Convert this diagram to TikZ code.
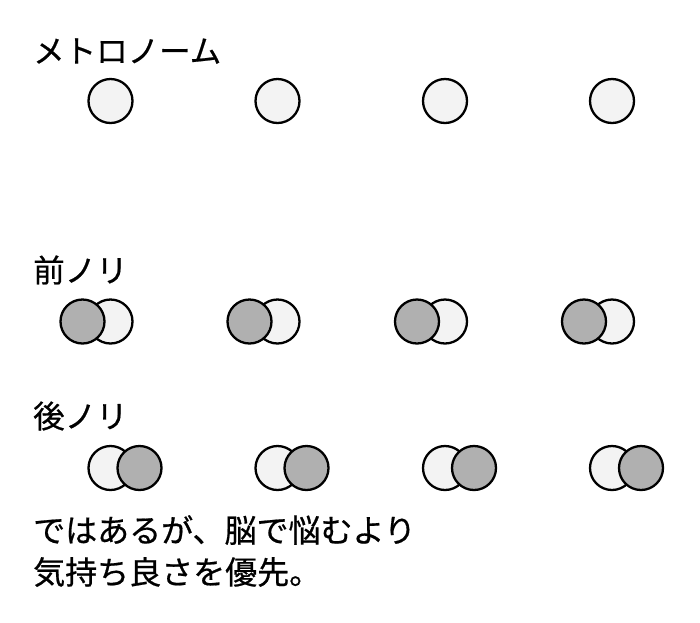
\documentclass[tikz,border=0pt]{standalone}
\usepackage{fontspec}
\setmainfont{Noto Sans CJK JP}[FakeBold=0.6]
\begin{document}
\begin{tikzpicture}[x=1pt,y=-1pt,
  beat/.style={circle,draw=black,line width=2.3pt,minimum size=44pt,inner sep=0pt},
  lightbeat/.style={beat,fill=lightgray0},
  darkbeat/.style={beat,fill=darkgray0},
  label/.style={anchor=west,inner sep=0pt,font=\fontsize{31.5}{38}\selectfont}]
\definecolor{lightgray0}{HTML}{F3F3F3}
\definecolor{darkgray0}{HTML}{B0B0B0}
\useasboundingbox (0,0) rectangle (700,622);
\fill[white] (0,0) rectangle (700,622);
% Metronome row
\node[label] (t1) at (33,51) {メトロノーム};
\foreach \i/\x in {1/110.5,2/277.5,3/445,4/612}{
  \node[lightbeat] (m\i) at (\x,101) {};
}
% Front row
\node[label] (t2) at (33,270) {前ノリ};
\foreach \i/\x in {1/110.5,2/277.5,3/445,4/612}{
  \node[lightbeat] (fl\i) at (\x,321.5) {};
  \node[darkbeat] (fd\i) at ([xshift=-28pt]fl\i.center) {};
}
% Back row
\node[label] (t3) at (33,416) {後ノリ};
\foreach \i/\x in {1/110.5,2/277.5,3/445,4/612}{
  \node[lightbeat] (bl\i) at (\x,468) {};
  \node[darkbeat] (bd\i) at ([xshift=29pt]bl\i.center) {};
}
% Caption
\node[label,font=\fontsize{32}{38}\selectfont] (c1) at (33,530) {ではあるが、脳で悩むより};
\node[label,font=\fontsize{32}{38}\selectfont] (c2) at (33,572) {気持ち良さを優先。};
\end{tikzpicture}
\end{document}
